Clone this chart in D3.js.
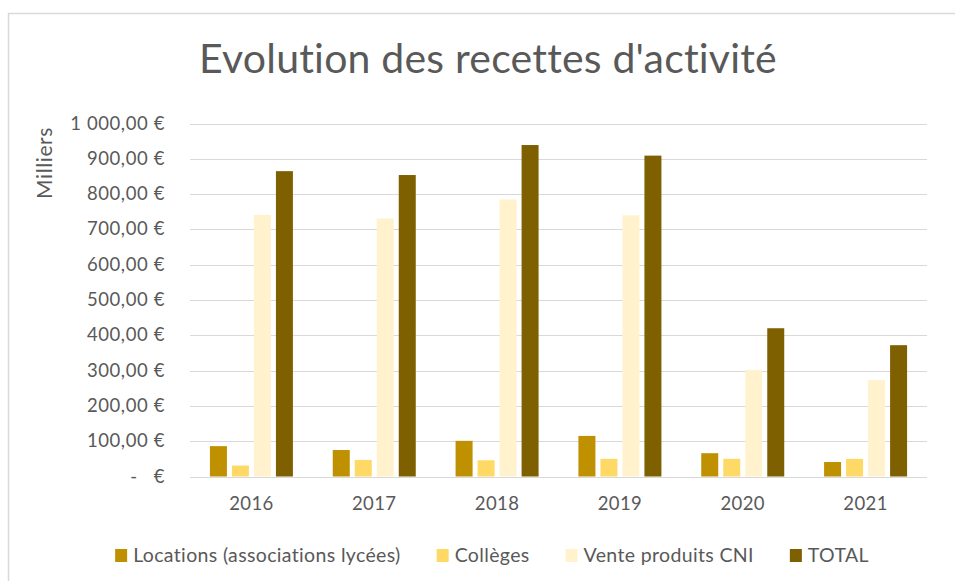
<!DOCTYPE html>
<html>
<head>
<meta charset="utf-8">
<script src="https://cdn.jsdelivr.net/npm/d3@7"></script>
<style>
  body { margin: 0; background: #fff; }
  text { font-family: Lato, "Open Sans", sans-serif; fill: #595959; }
</style>
</head>
<body>
<script>
const years = ["2016", "2017", "2018", "2019", "2020", "2021"];
const seriesNames = ["Locations (associations lycées)", "Collèges", "Vente produits CNI", "TOTAL"];
const locations = [86, 75, 101, 115, 66, 41];
const colleges = [31, 47, 46, 50, 50, 50];
const vente = [741, 731, 785, 740, 302, 273];
const total = [865, 854, 939, 909, 420, 372];
const yTicks = [0, 100, 200, 300, 400, 500, 600, 700, 800, 900, 1000];
const colors = ["#BF9000", "#FFD966", "#FFF2CC", "#7F6000"];

const values = [locations, colleges, vente, total];

const width = 955;
const height = 581;

const svg = d3
  .select("body")
  .append("svg")
  .attr("width", width)
  .attr("height", height);

// chart border
svg
  .append("rect")
  .attr("x", 8.5)
  .attr("y", 13.5)
  .attr("width", 980)
  .attr("height", 620)
  .attr("fill", "none")
  .attr("stroke", "#d9d9d9")
  .attr("stroke-width", 1.5);

svg
  .append("text")
  .attr("x", 488)
  .attr("y", 73)
  .attr("text-anchor", "middle")
  .attr("font-size", 41)
  .attr("letter-spacing", 0.2)
  .text("Evolution des recettes d'activité");

const x0 = d3.scaleBand().domain(years).range([190, 927]);
const step = x0.bandwidth();
const groupW = 83;
const x1 = d3
  .scaleBand()
  .domain(d3.range(seriesNames.length))
  .range([(step - groupW) / 2, (step + groupW) / 2])
  .paddingInner(5 / 22);

const y = d3.scaleLinear().domain([0, 1000]).range([476.5, 123.5]);

const fmt = (v) => {
  if (v === 0) return "-   €";
  const s = d3.format(",.2f")(v);
  return s.replace(",", " ").replace(".", ",") + " €";
};

// gridlines
svg
  .append("g")
  .selectAll("line")
  .data(yTicks)
  .join("line")
  .attr("x1", 190)
  .attr("x2", 927)
  .attr("y1", (d) => Math.round(y(d)) + 0.5)
  .attr("y2", (d) => Math.round(y(d)) + 0.5)
  .attr("stroke", "#d9d9d9")
  .attr("stroke-width", 1.2);

// y labels
svg
  .append("g")
  .selectAll("text")
  .data(yTicks)
  .join("text")
  .attr("x", 165)
  .attr("y", (d) => y(d) + 6)
  .attr("text-anchor", "end")
  .attr("font-size", 18.5)
  .attr("letter-spacing", 0.6)
  .attr("xml:space", "preserve")
  .text(fmt);

svg
  .append("text")
  .attr("transform", "translate(52,163) rotate(-90)")
  .attr("text-anchor", "middle")
  .attr("font-size", 21)
  .attr("letter-spacing", 0.6)
  .text("Milliers");

// bars
const groups = svg
  .append("g")
  .selectAll("g")
  .data(years)
  .join("g")
  .attr("transform", (d) => `translate(${x0(d)},0)`);

groups
  .selectAll("rect")
  .data((d, i) => values.map((s, k) => ({ k, v: s[i] })))
  .join("rect")
  .attr("x", (d) => x1(d.k))
  .attr("width", x1.bandwidth())
  .attr("y", (d) => y(d.v))
  .attr("height", (d) => y(0) - y(d.v))
  .attr("fill", (d) => colors[d.k]);

// x labels
svg
  .append("g")
  .selectAll("text")
  .data(years)
  .join("text")
  .attr("x", (d) => x0(d) + step / 2)
  .attr("y", 510)
  .attr("text-anchor", "middle")
  .attr("font-size", 18.5)
  .attr("letter-spacing", 0.4)
  .text((d) => d);

// legend
const legend = svg.append("g");
let lx = 0;
seriesNames.forEach((name, i) => {
  const item = legend.append("g").attr("transform", `translate(${lx},0)`);
  item
    .append("rect")
    .attr("x", 0)
    .attr("y", 549)
    .attr("width", 12)
    .attr("height", 13)
    .attr("fill", colors[i]);
  const t = item
    .append("text")
    .attr("x", 18)
    .attr("y", 562)
    .attr("font-size", 19.5)
    .attr("letter-spacing", 0.35)
    .text(name);
  lx += 18 + t.node().getComputedTextLength() + 36;
});
lx -= 36;
legend.attr("transform", `translate(${492 - lx / 2},0)`);
</script>
</body>
</html>
